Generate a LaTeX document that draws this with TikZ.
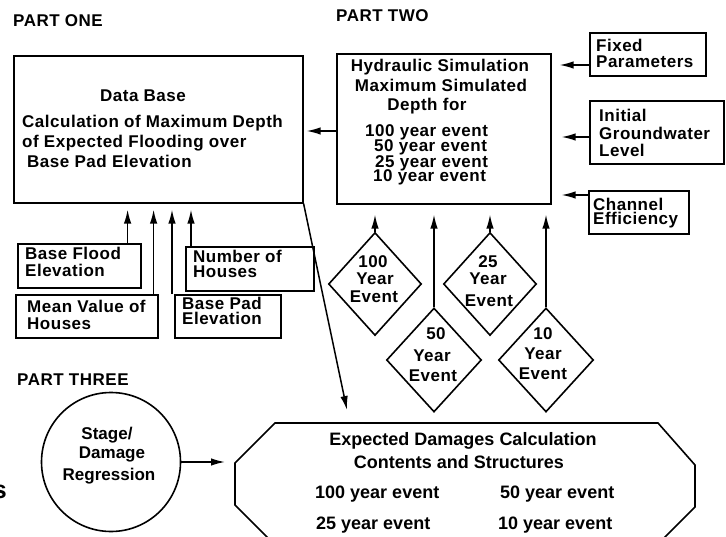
\documentclass[tikz,border=0pt]{standalone}
\usepackage{fontspec}
\setmainfont{Liberation Sans}
\newfontfamily\wf{Liberation Sans}[LetterSpace=3]
\newfontfamily\nf{Liberation Sans}
\usetikzlibrary{arrows.meta,shapes.geometric,calc}
\begin{document}
\begin{tikzpicture}[x=1pt,y=-1pt,
  box/.style={draw,line width=1.6pt,inner sep=0pt,anchor=north west},
  tx/.style={inner sep=0pt,font={\wf\bfseries\fontsize{17}{19}\selectfont}},
  tb/.style={inner sep=0pt,font={\nf\bfseries\fontsize{18}{20}\selectfont}},
  tc/.style={inner sep=0pt,font={\nf\bfseries\fontsize{17}{19}\selectfont}},
  dia/.style={draw,line width=1.6pt,shape=diamond,inner sep=0pt,minimum width=93pt,minimum height=103pt},
  arr/.style={line width=1.5pt,-{Latex[length=14pt,width=7.5pt]}}]
\path[use as bounding box] (0,0) rectangle (726,537);
\clip (0,0) rectangle (726,537);

% part labels
\node[tx,anchor=base west] (p1) at (13,27) {PART ONE};
\node[tx,anchor=base west] (p2) at (336,22) {PART TWO};
\node[tx,anchor=base west] (p3) at (17,385) {PART THREE};
\node[inner sep=0pt,font={\nf\bfseries\fontsize{25}{27}\selectfont},anchor=base east] (frag) at (7,498) {s};

% Data base box
\node[box,minimum width=289pt,minimum height=147pt] (db) at (13,55) {};
\node[tx,anchor=base] (dbA) at (143,102) {Data Base};
\node[tx,anchor=base west] (dbB) at (22,128) {Calculation of Maximum Depth};
\node[tx,anchor=base west] (dbC) at (22,148) {of Expected Flooding over};
\node[tx,anchor=base west] (dbD) at (27,168) {Base Pad Elevation};

% Hydraulic box
\node[box,minimum width=214pt,minimum height=150pt] (hyd) at (336,53) {};
\node[tx,anchor=base] (hA) at (440,72) {Hydraulic Simulation};
\node[tx,anchor=base] (hB) at (441,92) {Maximum Simulated};
\node[tx,anchor=base] (hC) at (427,111) {Depth for};
\node[tx,anchor=base west] (hD) at (365,137) {100 year event};
\node[tx,anchor=base west] (hE) at (374,152) {50 year event};
\node[tx,anchor=base west] (hF) at (375,168) {25 year event};
\node[tx,anchor=base west] (hG) at (373,182) {10 year event};

% right boxes
\node[box,minimum width=116pt,minimum height=43pt] (fx) at (589,32) {};
\node[tx,anchor=base west] (fxA) at (596,52) {Fixed};
\node[tx,anchor=base west] (fxB) at (596,68) {Parameters};
\node[box,minimum width=134pt,minimum height=63pt] (ig) at (589,100) {};
\node[tx,anchor=base west] (igA) at (599,122) {Initial};
\node[tx,anchor=base west] (igB) at (599,140) {Groundwater};
\node[tx,anchor=base west] (igC) at (599,157) {Level};
\node[box,minimum width=100pt,minimum height=43pt] (ch) at (588,190) {};
\node[tx,anchor=base west] (chA) at (593,211) {Channel};
\node[tx,anchor=base west] (chB) at (593,225) {Efficiency};

% lower-left boxes
\node[box,minimum width=123pt,minimum height=44pt] (bf) at (17,243) {};
\node[tx,anchor=base west] (bfA) at (25,260) {Base Flood};
\node[tx,anchor=base west] (bfB) at (25,277) {Elevation};
\node[box,minimum width=142pt,minimum height=43pt] (mv) at (15,294) {};
\node[tx,anchor=base west] (mvA) at (27,313) {Mean Value of};
\node[tx,anchor=base west] (mvB) at (27,330) {Houses};
\node[box,minimum width=128pt,minimum height=44pt] (nh) at (185,246) {};
\node[tx,anchor=base west] (nhA) at (193,263) {Number of};
\node[tx,anchor=base west] (nhB) at (193,278) {Houses};
\node[box,minimum width=106pt,minimum height=43pt] (bp) at (174,294) {};
\node[tx,anchor=base west] (bpA) at (182,310) {Base Pad};
\node[tx,anchor=base west] (bpB) at (182,325) {Elevation};

% diamonds
\node[dia] (d100) at (375,284) {};
\node[tx,anchor=base] (d100a) at (373,268) {100};
\node[tx,anchor=base] (d100b) at (375,285) {Year};
\node[tx,anchor=base] (d100c) at (374,303) {Event};
\node[dia] (d25) at (490,284) {};
\node[tx,anchor=base] (d25a) at (488,268) {25};
\node[tx,anchor=base] (d25b) at (488,285) {Year};
\node[tx,anchor=base] (d25c) at (489,307) {Event};
\node[dia,minimum width=95pt,minimum height=104pt] (d50) at (434,360) {};
\node[tx,anchor=base] (d50a) at (436,340) {50};
\node[tx,anchor=base] (d50b) at (432,362) {Year};
\node[tx,anchor=base] (d50c) at (433,382) {Event};
\node[dia,minimum width=95pt,minimum height=104pt] (d10) at (546,360) {};
\node[tx,anchor=base] (d10a) at (543,340) {10};
\node[tx,anchor=base] (d10b) at (543,360) {Year};
\node[tx,anchor=base] (d10c) at (543,380) {Event};

% circle
\node[draw,line width=1.6pt,circle,minimum size=139pt,inner sep=0pt] (circ) at (111,462) {};
\node[tc,anchor=base] (cA) at (107,439) {Stage/};
\node[tc,anchor=base] (cB) at (112,458) {Damage};
\node[tc,anchor=base] (cC) at (109,480) {Regression};

% octagon
\draw[line width=1.6pt] (275,423) -- (658,423) -- (695,465) -- (695,507) -- (655,547)
  -- (277,547) -- (235,505) -- (235,463) -- cycle;
\coordinate (octW) at (235,462);
\coordinate (dtip) at (347,410);
\node[tb,anchor=base] (oA) at (463,445) {Expected Damages Calculation};
\node[tb,anchor=base] (oB) at (459,468) {Contents and Structures};
\node[tb,anchor=base west] (oC) at (315,498) {100 year event};
\node[tb,anchor=base west] (oD) at (500,498) {50 year event};
\node[tb,anchor=base west] (oE) at (316,529) {25 year event};
\node[tb,anchor=base west] (oF) at (498,529) {10 year event};

% connectors
\draw[arr,shorten >=3pt] (hyd.west |- 0,131) -- (db.east |- 0,131);
\draw[arr,shorten >=8pt] (fx.west |- 0,65) -- (hyd.east |- 0,65);
\draw[arr,shorten >=10pt] (ig.west |- 0,137) -- (hyd.east |- 0,137);
\draw[arr,shorten >=10pt] (ch.west |- 0,195) -- (hyd.east |- 0,195);
\draw[arr,shorten >=10pt] (d100.north) -- (d100.north |- hyd.south);
\draw[arr,shorten >=10pt] (d50.north) -- (d50.north |- hyd.south);
\draw[arr,shorten >=10pt] (d25.north) -- (d25.north |- hyd.south);
\draw[arr,shorten >=10pt] (d10.north) -- (d10.north |- hyd.south);
\draw[arr,shorten >=6pt] ([xshift=-14pt]bf.north east) -- ([xshift=-14pt]bf.north east |- db.south);
\draw[arr,shorten >=6pt] ([xshift=-5pt]mv.north east) -- ([xshift=-5pt]mv.north east |- db.south);
\draw[arr,shorten >=6pt] ([xshift=-2pt]bp.north west) -- ([xshift=-2pt]bp.north west |- db.south);
\draw[arr,shorten >=6pt] ([xshift=6pt]nh.north west) -- ([xshift=6pt]nh.north west |- db.south);
\draw[arr] (db.south east) -- (dtip);
\draw[arr,shorten >=10pt] (circ.east) -- (circ.east -| octW);
\end{tikzpicture}
\end{document}
